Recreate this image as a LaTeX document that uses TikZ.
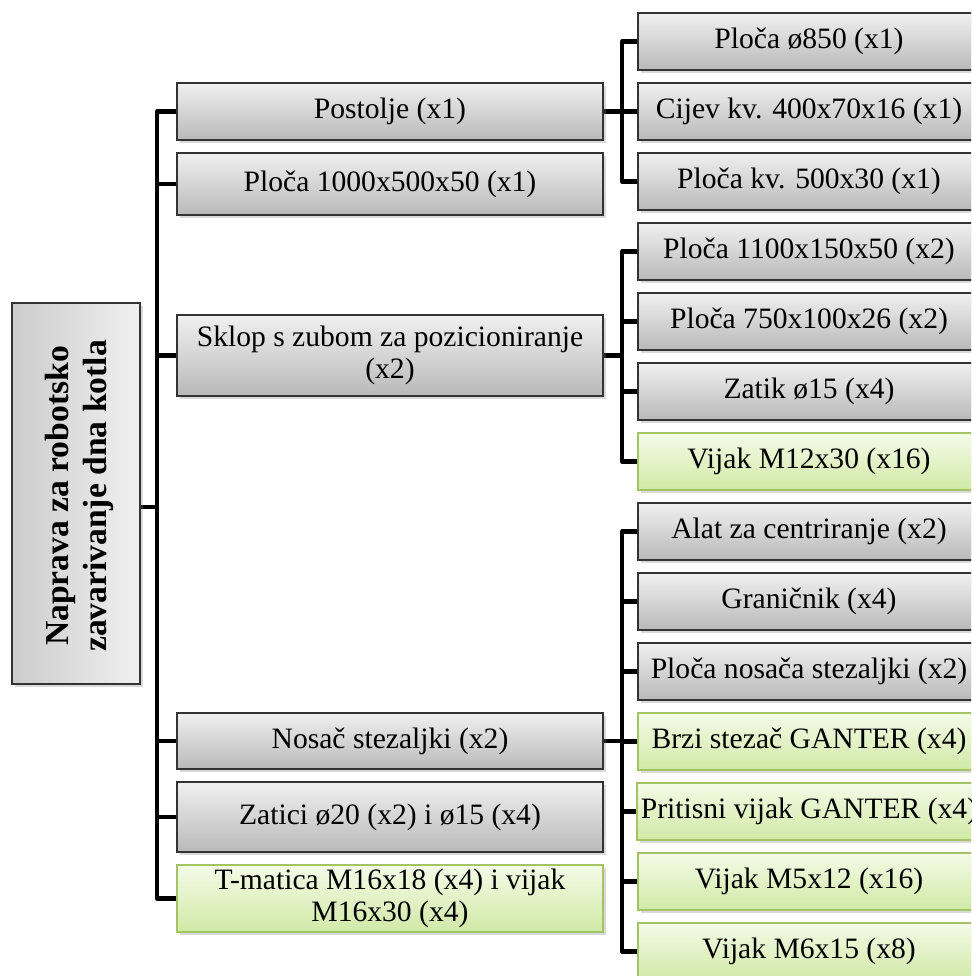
\documentclass[tikz,border=0pt]{standalone}
\usepackage{fontspec}
\setmainfont{Liberation Serif}
\usetikzlibrary{shadows}
\pgfdeclarelayer{background}
\pgfsetlayers{background,main}
\definecolor{gtop}{HTML}{F0F0F0}
\definecolor{gbot}{HTML}{B9B9B9}
\definecolor{ntop}{HTML}{F5FBE8}
\definecolor{nbot}{HTML}{D0E9A6}
\definecolor{nbord}{HTML}{A2C465}
\tikzset{
  base/.style={rectangle, inner sep=2pt, align=center,
    font=\fontsize{14.8}{16}\selectfont,
    drop shadow={shadow xshift=1.6pt, shadow yshift=-1.6pt, opacity=0.3}},
  graybox/.style={base, draw=black!80, line width=0.7pt, top color=gtop, bottom color=gbot},
  greenbox/.style={base, draw=nbord, line width=0.8pt, top color=ntop, bottom color=nbot},
  lvlone/.style={minimum width=213pt},
  lvltwo/.style={minimum width=171pt, minimum height=28.5pt},
  conn/.style={line width=2.1pt, line join=round, draw=black}
}
\begin{document}
\begin{tikzpicture}[x=0.5pt, y=-0.5pt]
\useasboundingbox (0,0) rectangle (971,976);
\clip (0,0) rectangle (971,976);
% root
\node[base, draw=black!80, line width=0.7pt, left color=black!20, right color=gtop,
      minimum width=64pt, minimum height=190.5pt] (root) at (76,493.5) {};
\node[rotate=90, align=center, font=\fontsize{16.8}{19}\selectfont\bfseries] (roottext) at (79,496)
  {Naprava za robotsko\\zavarivanje dna kotla};
% level one
\node[graybox, lvlone, minimum height=28.5pt] (p1) at (390,111.5) {Postolje (x1)};
\node[graybox, lvlone, minimum height=31pt] (p2) at (390,184) {Ploča 1000x500x50 (x1)};
\node[graybox, lvlone, minimum height=40.5pt] (p3) at (390,355.5) {Sklop s zubom za pozicioniranje\\(x2)};
\node[graybox, lvlone, minimum height=28pt] (p4) at (390,741) {Nosač stezaljki (x2)};
\node[graybox, lvlone, minimum height=35pt] (p5) at (390,817) {Zatici ø20 (x2) i ø15 (x4)};
\node[greenbox, lvlone, minimum height=33.5pt] (p6) at (390,898.5) {T-matica M16x18 (x4) i vijak\\M16x30 (x4)};
% level two
\node[graybox, lvltwo] (c0) at (809,41.5) {Ploča ø850 (x1)};
\node[graybox, lvltwo] (c1) at (809,111.5) {Cijev kv. 400x70x16 (x1)};
\node[graybox, lvltwo] (c2) at (809,181.5) {Ploča kv. 500x30 (x1)};
\node[graybox, lvltwo] (c3) at (809,251.5) {Ploča 1100x150x50 (x2)};
\node[graybox, lvltwo] (c4) at (809,321.5) {Ploča 750x100x26 (x2)};
\node[graybox, lvltwo] (c5) at (809,391.5) {Zatik ø15 (x4)};
\node[greenbox, lvltwo] (c6) at (809,461.5) {Vijak M12x30 (x16)};
\node[graybox, lvltwo] (c7) at (809,531.5) {Alat za centriranje (x2)};
\node[graybox, lvltwo] (c8) at (809,601.5) {Graničnik (x4)};
\node[graybox, lvltwo] (c9) at (809,671.5) {Ploča nosača stezaljki (x2)};
\node[greenbox, lvltwo] (c10) at (809,741.5) {Brzi stezač GANTER (x4)};
\node[greenbox, lvltwo] (c11) at (809,811.5) {Pritisni vijak GANTER (x4)};
\node[greenbox, lvltwo] (c12) at (809,881.5) {Vijak M5x12 (x16)};
\node[greenbox, lvltwo] (c13) at (809,951.5) {Vijak M6x15 (x8)};
% junction coordinates
\coordinate (rj) at (157,507);
\coordinate (ja) at (622,0);
\begin{pgfonlayer}{background}
  \draw[conn] (root.east |- rj) -- (rj);
  \draw[conn] (p1.west) -- (p1.west -| rj) -- (p6.west -| rj) -- (p6.west);
  \foreach \n in {p2,p3,p4,p5} \draw[conn] (\n.west) -- (\n.west -| rj);
  % group A
  \draw[conn] (p1.east) -- (p1.east -| ja);
  \draw[conn] (c0.west) -- (c0.west -| ja) -- (c2.west -| ja) -- (c2.west);
  \draw[conn] (c1.west) -- (c1.west -| ja);
  % group B
  \draw[conn] (p3.east) -- (p3.east -| ja);
  \draw[conn] (c3.west) -- (c3.west -| ja) -- (c6.west -| ja) -- (c6.west);
  \foreach \n in {c4,c5} \draw[conn] (\n.west) -- (\n.west -| ja);
  % group C
  \draw[conn] (p4.east) -- (p4.east -| ja);
  \draw[conn] (c7.west) -- (c7.west -| ja) -- (c13.west -| ja) -- (c13.west);
  \foreach \n in {c8,c9,c10,c11,c12} \draw[conn] (\n.west) -- (\n.west -| ja);
\end{pgfonlayer}
\end{tikzpicture}
\end{document}
